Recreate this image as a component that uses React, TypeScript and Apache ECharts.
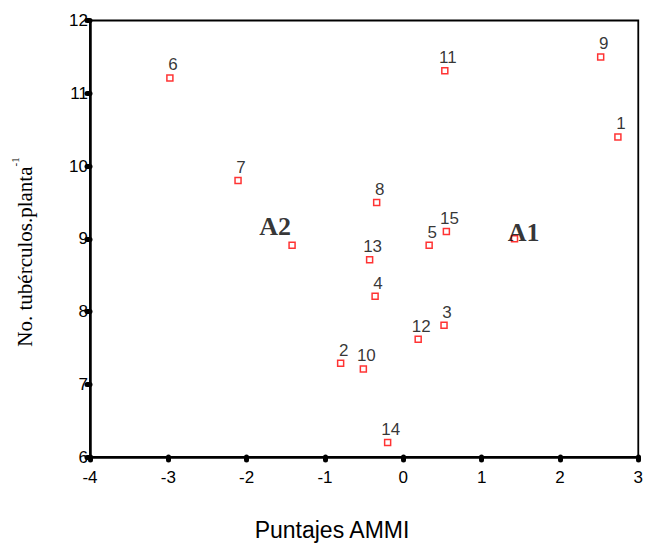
import React, { useEffect, useRef } from "react";
import * as echarts from "echarts";

const genoLabels = ["1", "2", "3", "4", "5", "6", "7", "8", "9", "10", "11", "12", "13", "14", "15"];
const genoX = [2.74, -0.8, 0.52, -0.36, 0.33, -2.98, -2.11, -0.34, 2.52, -0.51, 0.53, 0.19, -0.43, -0.2, 0.55];
const genoY = [10.4, 7.29, 7.81, 8.21, 8.91, 11.21, 9.8, 9.5, 11.5, 7.21, 11.31, 7.62, 8.71, 6.2, 9.1];

const envLabels = ["A1", "A2"];
const envX = [1.42, -1.42];
const envY = [9.0, 8.91];

const xTicks = [-4, -3, -2, -1, 0, 1, 2, 3];
const yTicks = [6, 7, 8, 9, 10, 11, 12];

const xTitle = "Puntajes AMMI";
const yTitle = "No. tubérculos.planta";
const ySup = "-1";

export default function App() {
  const ref = useRef<HTMLDivElement>(null);
  useEffect(() => {
    if (!ref.current) return;
    const chart = echarts.init(ref.current, null, { renderer: "svg" });
    const sans = "Liberation Sans, Arial, sans-serif";
    const serif = "Liberation Serif, Times New Roman, serif";
    const markerStyle = { color: "#ffffff", borderColor: "#ff0000", borderWidth: 1.5 };
    const tickDot = { show: true, inside: false, length: 3, lineStyle: { color: "#000", width: 5, cap: "round" as const } };
    const envOffsets = [
      [9, -6],
      [-17, -19],
    ];
    chart.setOption({
      animation: false,
      backgroundColor: "#ffffff",
      grid: {
        left: 90,
        right: 6,
        top: 20.5,
        bottom: 86,
        show: true,
        borderColor: "#000",
        borderWidth: 1.8,
        backgroundColor: "transparent",
      },
      xAxis: {
        type: "value",
        min: xTicks[0],
        max: xTicks[xTicks.length - 1],
        interval: 1,
        axisLine: { show: true, onZero: false, lineStyle: { color: "#000", width: 2.5 } },
        axisTick: tickDot,
        splitLine: { show: false },
        axisLabel: { color: "#000", fontFamily: sans, fontSize: 17, margin: 12 },
      },
      yAxis: {
        type: "value",
        min: yTicks[0],
        max: yTicks[yTicks.length - 1],
        interval: 1,
        axisLine: { show: true, onZero: false, lineStyle: { color: "#000", width: 2.5 } },
        axisTick: tickDot,
        splitLine: { show: false },
        axisLabel: { color: "#000", fontFamily: sans, fontSize: 17, margin: 2 },
      },
      graphic: [
        {
          type: "text",
          x: 332,
          y: 530,
          style: {
            text: xTitle,
            fill: "#000",
            font: "23px Liberation Sans, Arial, sans-serif",
            align: "center",
            verticalAlign: "middle",
          },
        },
        {
          type: "text",
          x: 22,
          y: 252,
          rotation: Math.PI / 2,
          style: {
            text: `{a|${yTitle}}{s|${ySup}}`,
            align: "center",
            verticalAlign: "middle",
            rich: {
              a: { fontFamily: serif, fontSize: 21, fill: "#000", lineHeight: 26, verticalAlign: "bottom" },
              s: { fontFamily: serif, fontSize: 11, fill: "#000", lineHeight: 26, verticalAlign: "top" },
            },
          },
        },
      ],
      series: [
        {
          name: "Genotipos",
          type: "scatter",
          symbol: "rect",
          symbolSize: 6,
          itemStyle: markerStyle,
          data: genoX.map((x, i) => ({ value: [x, genoY[i]], name: genoLabels[i] })),
          label: {
            show: true,
            position: "inside",
            offset: [3, -13],
            formatter: "{b}",
            color: "#000",
            textBorderWidth: 0,
            fontFamily: sans,
            fontSize: 17,
          },
        },
        {
          name: "Ambientes",
          type: "scatter",
          symbol: "rect",
          symbolSize: 6,
          itemStyle: markerStyle,
          data: envX.map((x, i) => ({
            value: [x, envY[i]],
            name: envLabels[i],
            label: { offset: envOffsets[i] },
          })),
          label: {
            show: true,
            position: "inside",
            formatter: "{b}",
            color: "#000",
            textBorderWidth: 0,
            fontFamily: serif,
            fontWeight: "bold",
            fontSize: 26,
          },
        },
      ],
    });
    return () => chart.dispose();
  }, []);
  return (
    <div
      ref={ref}
      style={{ position: "absolute", left: 0, top: 0, width: 646, height: 543 }}
    />
  );
}
